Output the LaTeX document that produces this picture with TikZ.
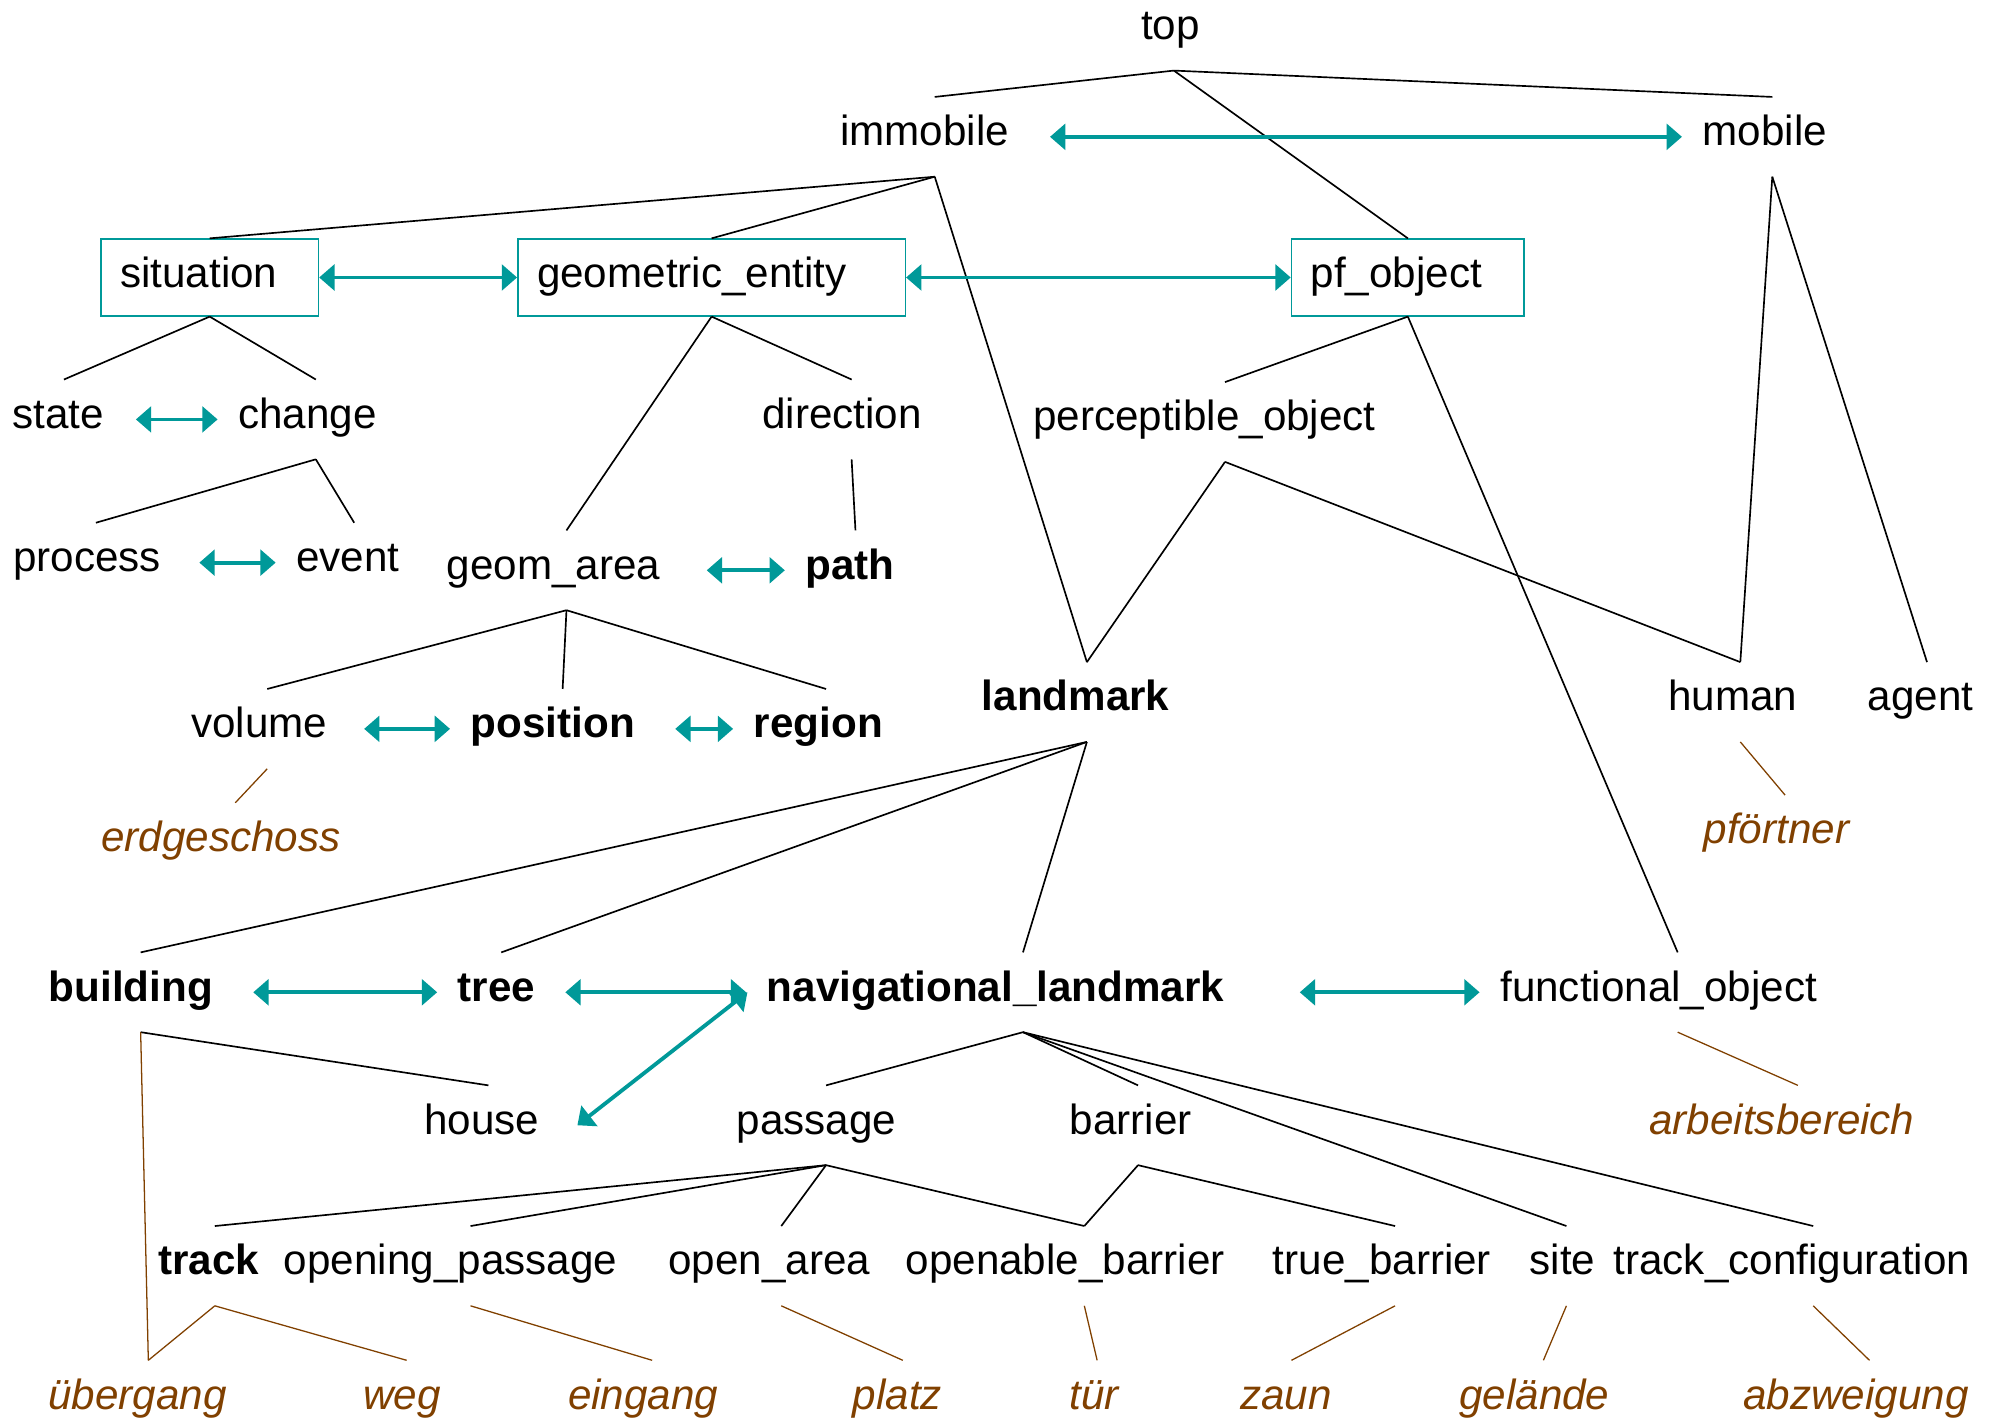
\documentclass[tikz,border=0pt]{standalone}
\usepackage{fontspec}
\setmainfont{Liberation Sans}
\usetikzlibrary{arrows.meta}
\definecolor{relteal}{RGB}{0,153,153}
\definecolor{exbrown}{RGB}{128,64,0}
\newcommand{\wordfont}{\fontsize{33}{40}\selectfont}
\tikzset{
  word/.style={font=\wordfont, inner sep=0pt, text height=38pt, text depth=24pt, anchor=base,
    execute at begin node={\setbox0=\hbox\bgroup},
    execute at end node={\egroup\hbox to 1.12\wd0{\box0\hss}}},
  key/.style={word, font=\wordfont\bfseries},
  ex/.style={word, font=\wordfont\itshape, text=exbrown},
  cat/.style={draw=relteal, line width=1.2pt, font=\wordfont, inner xsep=15pt, inner ysep=0pt,
    text height=38pt, text depth=22pt, align=left},
  isa/.style={line width=1.3pt},
  inst/.style={color=exbrown, line width=1pt},
  rel/.style={color=relteal, line width=3pt, shorten <=16pt, shorten >=16pt,
    {Triangle[length=12pt,width=20pt]}-{Triangle[length=12pt,width=20pt]}},
}
\begin{document}
\begin{tikzpicture}[x=1pt,y=-1pt]
  \useasboundingbox (0,0) rectangle (1568,1109);
  % upper part
  \node[word] (top) at (918,31) {top};
  \node[word] (immobile) at (731,114) {immobile};
  \node[word] (mobile) at (1386,114) {mobile};
  \node[cat, text width=140pt] (situation) at (164,217) {situation};
  \node[cat, text width=273pt] (geometric_entity) at (556.5,217) {geometric\_entity};
  \node[cat, text width=152pt] (pf_object) at (1101,217) {pf\_object};
  \node[word] (state) at (50,335) {state};
  \node[word] (change) at (247,335) {change};
  \node[word] (direction) at (666,335) {direction};
  \node[word] (perceptible_object) at (958,337) {perceptible\_object};
  \node[word] (process) at (75,447) {process};
  \node[word] (event) at (277,447) {event};
  \node[word] (geom_area) at (443,453) {geom\_area};
  \node[key] (path) at (669,453) {path};
  \node[word] (volume) at (209,577) {volume};
  \node[key] (position) at (440,577) {position};
  \node[key] (region) at (646,577) {region};
  \node[key] (landmark) at (850,556) {landmark};
  \node[word] (human) at (1361,556) {human};
  \node[word] (agent) at (1507,556) {agent};
  \node[ex] (erdgeschoss) at (184,666) {erdgeschoss};
  \node[ex] (pfoertner) at (1396,660) {pförtner};
  % lower part
  \node[key] (building) at (110,783) {building};
  \node[key] (tree) at (392,783) {tree};
  \node[key] (nav_landmark) at (800,783) {navigational\_landmark};
  \node[word] (functional_object) at (1312,783) {functional\_object};
  \node[ex] (arbeitsbereich) at (1406,887) {arbeitsbereich};
  \node[word] (house) at (382,887) {house};
  \node[word] (passage) at (646,887) {passage};
  \node[word] (barrier) at (890,887) {barrier};
  \node[key] (track) at (168,997) {track};
  \node[word] (opening_passage) at (368,997) {opening\_passage};
  \node[word] (open_area) at (611,997) {open\_area};
  \node[word] (openable_barrier) at (848,997) {openable\_barrier};
  \node[word] (true_barrier) at (1091,997) {true\_barrier};
  \node[word] (site) at (1225,997) {site};
  \node[word] (track_configuration) at (1418,997) {track\_configuration};
  \node[ex] (uebergang) at (116,1102) {übergang};
  \node[ex] (weg) at (318,1102) {weg};
  \node[ex] (eingang) at (510,1102) {eingang};
  \node[ex] (platz) at (706,1102) {platz};
  \node[ex] (tuer) at (858,1102) {tür};
  \node[ex] (zaun) at (1010,1102) {zaun};
  \node[ex] (gelaende) at (1207,1102) {gelände};
  \node[ex] (abzweigung) at (1462,1102) {abzweigung};
  % hierarchy
  \path[isa] (top.south) edge (immobile.north) edge (mobile.north) edge (pf_object.north);
  \path[isa] (immobile.south) edge (situation.north) edge (geometric_entity.north) edge (landmark.north);
  \path[isa] (mobile.south) edge (human.north) edge (agent.north);
  \path[isa] (situation.south) edge (state.north) edge (change.north);
  \path[isa] (change.south) edge (process.north) edge (event.north);
  \path[isa] (geometric_entity.south) edge (geom_area.north) edge (direction.north);
  \path[isa] (direction.south) edge (path.north);
  \path[isa] (geom_area.south) edge (volume.north) edge (position.north) edge (region.north);
  \path[isa] (pf_object.south) edge (perceptible_object.north) edge (functional_object.north);
  \path[isa] (perceptible_object.south) edge (landmark.north) edge (human.north);
  \path[isa] (landmark.south) edge (building.north) edge (tree.north) edge (nav_landmark.north);
  \path[isa] (building.south) edge (house.north);
  \path[isa] (nav_landmark.south) edge (passage.north) edge (barrier.north)
    edge (site.north) edge (track_configuration.north);
  \path[isa] (passage.south) edge (track.north) edge (opening_passage.north)
    edge (open_area.north) edge (openable_barrier.north);
  \path[isa] (barrier.south) edge (openable_barrier.north) edge (true_barrier.north);
  % instances
  \path[inst] (volume.south) edge (erdgeschoss.north);
  \path[inst] (human.south) edge (pfoertner.north);
  \path[inst] (functional_object.south) edge (arbeitsbereich.north);
  \path[inst] (building.south) edge (uebergang.north);
  \path[inst] (track.south) edge (uebergang.north) edge (weg.north);
  \path[inst] (opening_passage.south) edge (eingang.north);
  \path[inst] (open_area.south) edge (platz.north);
  \path[inst] (openable_barrier.south) edge (tuer.north);
  \path[inst] (true_barrier.south) edge (zaun.north);
  \path[inst] (site.south) edge (gelaende.north);
  \path[inst] (track_configuration.south) edge (abzweigung.north);
  % relations
  \draw[rel] (immobile) -- (mobile);
  \draw[rel, shorten <=0pt, shorten >=0pt] (situation) -- (geometric_entity);
  \draw[rel, shorten <=0pt, shorten >=0pt] (geometric_entity) -- (pf_object);
  \draw[rel] (state) -- (change);
  \draw[rel] (process) -- (event);
  \draw[rel] (geom_area) -- (path);
  \draw[rel] (volume) -- (position);
  \draw[rel] (position) -- (region);
  \draw[rel] (building) -- (tree);
  \draw[rel] (tree) -- (nav_landmark);
  \draw[rel] (nav_landmark) -- (functional_object);
  \draw[rel, shorten <=0pt, shorten >=0pt] ([xshift=-15pt]nav_landmark.west) -- ([xshift=19pt]house.east);
\end{tikzpicture}
\end{document}
